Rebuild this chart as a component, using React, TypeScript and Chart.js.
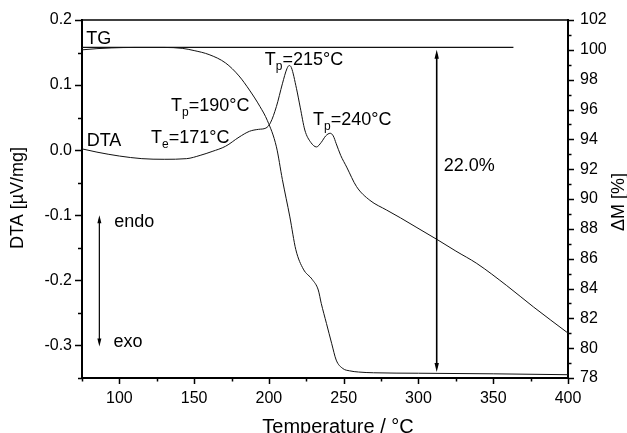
import React, { useEffect, useRef } from 'react';
import { Chart, registerables } from 'chart.js';

Chart.register(...registerables);

const FONT = '"Liberation Sans", Arial, Helvetica, sans-serif';

// DTA curve (left axis, µV/mg)
const dtaTemp = [75, 85, 100, 115, 130, 145, 154, 162, 171, 180, 187, 193, 198, 201, 205, 209, 212, 213.5, 215, 218.4, 221, 224, 228, 231.8, 235, 238, 241, 243, 245, 248, 252, 258.6, 267.5, 278.7, 288, 299, 313, 325, 339, 359, 377, 400];
const dtaValue = [0.002, -0.003, -0.009, -0.013, -0.014, -0.013, -0.008, -0.002, 0.006, 0.02, 0.029, 0.032, 0.034, 0.042, 0.067, 0.102, 0.125, 0.13, 0.127, 0.095, 0.065, 0.031, 0.012, 0.005, 0.012, 0.022, 0.026, 0.022, 0.01, -0.008, -0.026, -0.056, -0.077, -0.092, -0.104, -0.119, -0.138, -0.155, -0.174, -0.208, -0.241, -0.281];

// TG curve (right axis, %)
const tgTemp = [75, 85, 95, 110, 130, 142, 150, 160, 171, 180, 187, 194, 199, 205, 209, 214, 218, 223, 229, 233, 235, 238.5, 242, 245, 249.5, 254, 260, 270, 300, 350, 400];
const tgValue = [100.0, 100.08, 100.13, 100.16, 100.16, 100.1, 99.95, 99.68, 99.12, 98.25, 97.3, 96.2, 95.25, 93.5, 91.3, 88.8, 86.6, 85.3, 84.6, 83.9, 83.0, 81.65, 80.3, 79.2, 78.63, 78.48, 78.4, 78.35, 78.32, 78.28, 78.22];

// 100 % reference line
const refTemp = [75, 363.5];
const refValue = [100.17, 100.17];

// mass loss arrow
const lossTemp = 312.2;
const lossFrom = 100.0;
const lossTo = 78.4;
const lossText = '22.0%';

// endo / exo arrow (DTA axis)
const endoTemp = 86.6;
const endoTop = -0.1;
const endoBottom = -0.3015;

// text labels: [main, subscript, rest, temperature, DTA value of baseline]
const labels: [string, string, string, number, number][] = [
  ['TG', '', '', 77.9, 0.1626],
  ['DTA', '', '', 78.1, 0.0062],
  ['T', 'e', '=171°C', 121.2, 0.0112],
  ['T', 'p', '=190°C', 134.6, 0.06],
  ['T', 'p', '=215°C', 197.2, 0.1308],
  ['T', 'p', '=240°C', 229.5, 0.0392],
  ['endo', '', '', 96.6, -0.118],
  ['exo', '', '', 96.0, -0.3026],
];

const xTitle = 'Temperature / °C';
const yTitle = 'DTA [µV/mg]';
const y1Title = 'ΔM [%]';

const isMult = (v: number, m: number) => Math.abs(Math.round(v / m) * m - v) < 1e-6;

const annotPlugin = {
  id: 'annot',
  afterDraw(chart: any) {
    const { ctx, chartArea: a, scales } = chart;
    const x = scales.x, y = scales.y, y1 = scales.y1;
    ctx.save();
    ctx.strokeStyle = '#000';
    ctx.fillStyle = '#000';
    // top frame
    ctx.lineWidth = 1.5;
    ctx.beginPath();
    ctx.moveTo(a.left, a.top);
    ctx.lineTo(a.right, a.top);
    ctx.stroke();

    // ticks
    ctx.lineWidth = 1.5;
    ctx.beginPath();
    x.ticks.forEach((t: any) => {
      const px = Math.round(x.getPixelForValue(t.value)) + 0.5;
      const len = isMult(t.value, 50) ? 6 : 3.5;
      ctx.moveTo(px, a.bottom);
      ctx.lineTo(px, a.bottom + len);
    });
    y.ticks.forEach((t: any) => {
      const py = Math.round(y.getPixelForValue(t.value)) + 0.5;
      const len = isMult(t.value, 0.1) ? 7 : 4;
      ctx.moveTo(a.left, py);
      ctx.lineTo(a.left - len, py);
    });
    y1.ticks.forEach((t: any) => {
      const py = Math.round(y1.getPixelForValue(t.value)) + 0.5;
      const len = isMult(t.value, 2) ? 6 : 3.5;
      ctx.moveTo(a.right, py);
      ctx.lineTo(a.right + len, py);
    });
    ctx.stroke();

    // arrows
    const vArrow = (px: number, yTop: number, yBot: number, lw: number, hl: number, hw: number) => {
      ctx.lineWidth = lw;
      ctx.beginPath();
      ctx.moveTo(px, yTop + hl * 0.5);
      ctx.lineTo(px, yBot - hl * 0.5);
      ctx.stroke();
      ctx.beginPath();
      ctx.moveTo(px, yTop);
      ctx.lineTo(px - hw, yTop + hl);
      ctx.lineTo(px + hw, yTop + hl);
      ctx.closePath();
      ctx.fill();
      ctx.beginPath();
      ctx.moveTo(px, yBot);
      ctx.lineTo(px - hw, yBot - hl);
      ctx.lineTo(px + hw, yBot - hl);
      ctx.closePath();
      ctx.fill();
    };
    vArrow(x.getPixelForValue(lossTemp), y1.getPixelForValue(lossFrom), y1.getPixelForValue(lossTo), 1.6, 9, 2.2);
    vArrow(x.getPixelForValue(endoTemp), y.getPixelForValue(endoTop), y.getPixelForValue(endoBottom), 1.2, 8, 2);

    // labels
    ctx.textBaseline = 'alphabetic';
    ctx.textAlign = 'left';
    labels.forEach(([main, sub, rest, tx, ty]) => {
      let px = x.getPixelForValue(tx);
      const py = y.getPixelForValue(ty);
      ctx.font = `18px ${FONT}`;
      ctx.fillText(main, px, py);
      px += ctx.measureText(main).width;
      if (sub) {
        ctx.font = `12px ${FONT}`;
        ctx.fillText(sub, px, py + 5);
        px += ctx.measureText(sub).width;
      }
      if (rest) {
        ctx.font = `18px ${FONT}`;
        ctx.fillText(rest, px, py);
      }
    });
    ctx.font = `18px ${FONT}`;
    ctx.fillText(lossText, x.getPixelForValue(lossTemp) + 7, y1.getPixelForValue(91.9));

    // axis titles
    ctx.textAlign = 'center';
    ctx.font = `20px ${FONT}`;
    ctx.textBaseline = 'alphabetic';
    ctx.fillText(xTitle, 338, 433);

    ctx.font = `18px ${FONT}`;
    ctx.textBaseline = 'middle';
    ctx.save();
    ctx.translate(18, 198);
    ctx.rotate(-Math.PI / 2);
    ctx.fillText(yTitle, 0, 0);
    ctx.restore();
    ctx.save();
    ctx.translate(619, 202);
    ctx.rotate(-Math.PI / 2);
    ctx.fillText(y1Title, 0, 0);
    ctx.restore();

    ctx.restore();
  },
};

export default function App() {
  const ref = useRef<HTMLCanvasElement | null>(null);
  useEffect(() => {
    document.body.style.margin = '0';
    const canvas = ref.current;
    if (!canvas) return;
    const toPts = (xs: number[], ys: number[]) => xs.map((v, i) => ({ x: v, y: ys[i] }));
    const tickFont = { family: FONT, size: 16 };
    const chart = new Chart(canvas, {
      type: 'scatter',
      data: {
        datasets: [
          {
            label: 'DTA',
            data: toPts(dtaTemp, dtaValue),
            yAxisID: 'y',
            showLine: true,
            borderColor: '#111',
            borderWidth: 1,
            pointRadius: 0,
            cubicInterpolationMode: 'monotone',
          },
          {
            label: 'TG',
            data: toPts(tgTemp, tgValue),
            yAxisID: 'y1',
            showLine: true,
            borderColor: '#111',
            borderWidth: 1,
            pointRadius: 0,
            cubicInterpolationMode: 'monotone',
          },
          {
            label: 'ref',
            data: toPts(refTemp, refValue),
            yAxisID: 'y1',
            showLine: true,
            borderColor: '#111',
            borderWidth: 1.3,
            pointRadius: 0,
          },
        ],
      },
      options: {
        responsive: false,
        animation: false,
        events: [],
        layout: { padding: { top: 20, left: 0, right: 0, bottom: 0 } },
        plugins: { legend: { display: false }, tooltip: { enabled: false } },
        scales: {
          x: {
            type: 'linear',
            min: 75,
            max: 400,
            afterFit: (s: any) => { s.height = 55; },
            border: { display: true, color: '#000', width: 2 },
            grid: { display: true, drawOnChartArea: false, drawTicks: true, tickLength: 6, color: 'rgba(0,0,0,0)' },
            ticks: {
              stepSize: 25,
              autoSkip: false,
              maxRotation: 0,
              padding: 5,
              color: '#000',
              font: tickFont,
              callback: (v: any) => (isMult(Number(v), 50) ? String(v) : ''),
            },
          },
          y: {
            type: 'linear',
            position: 'left',
            min: -0.35,
            max: 0.2,
            afterFit: (s: any) => { s.width = 82; },
            border: { display: true, color: '#000', width: 2 },
            grid: { display: true, drawOnChartArea: false, drawTicks: true, tickLength: 7, color: 'rgba(0,0,0,0)' },
            ticks: {
              stepSize: 0.05,
              autoSkip: false,
              padding: 3,
              color: '#000',
              font: tickFont,
              callback: (v: any) => (isMult(Number(v), 0.1) ? Number(v).toFixed(1) : ''),
            },
          },
          y1: {
            type: 'linear',
            position: 'right',
            min: 78,
            max: 102,
            afterFit: (s: any) => { s.width = 59; },
            border: { display: true, color: '#000', width: 2 },
            grid: { display: true, drawOnChartArea: false, drawTicks: true, tickLength: 6, color: 'rgba(0,0,0,0)' },
            ticks: {
              stepSize: 1,
              autoSkip: false,
              padding: 6,
              color: '#000',
              font: tickFont,
              callback: (v: any) => (isMult(Number(v), 2) ? String(v) : ''),
            },
          },
        },
      },
      plugins: [annotPlugin],
    } as any);
    return () => chart.destroy();
  }, []);
  return (
    <div style={{ width: 627, height: 433, position: 'relative' }}>
      <canvas ref={ref} width={627} height={433} style={{ display: 'block' }} />
    </div>
  );
}
